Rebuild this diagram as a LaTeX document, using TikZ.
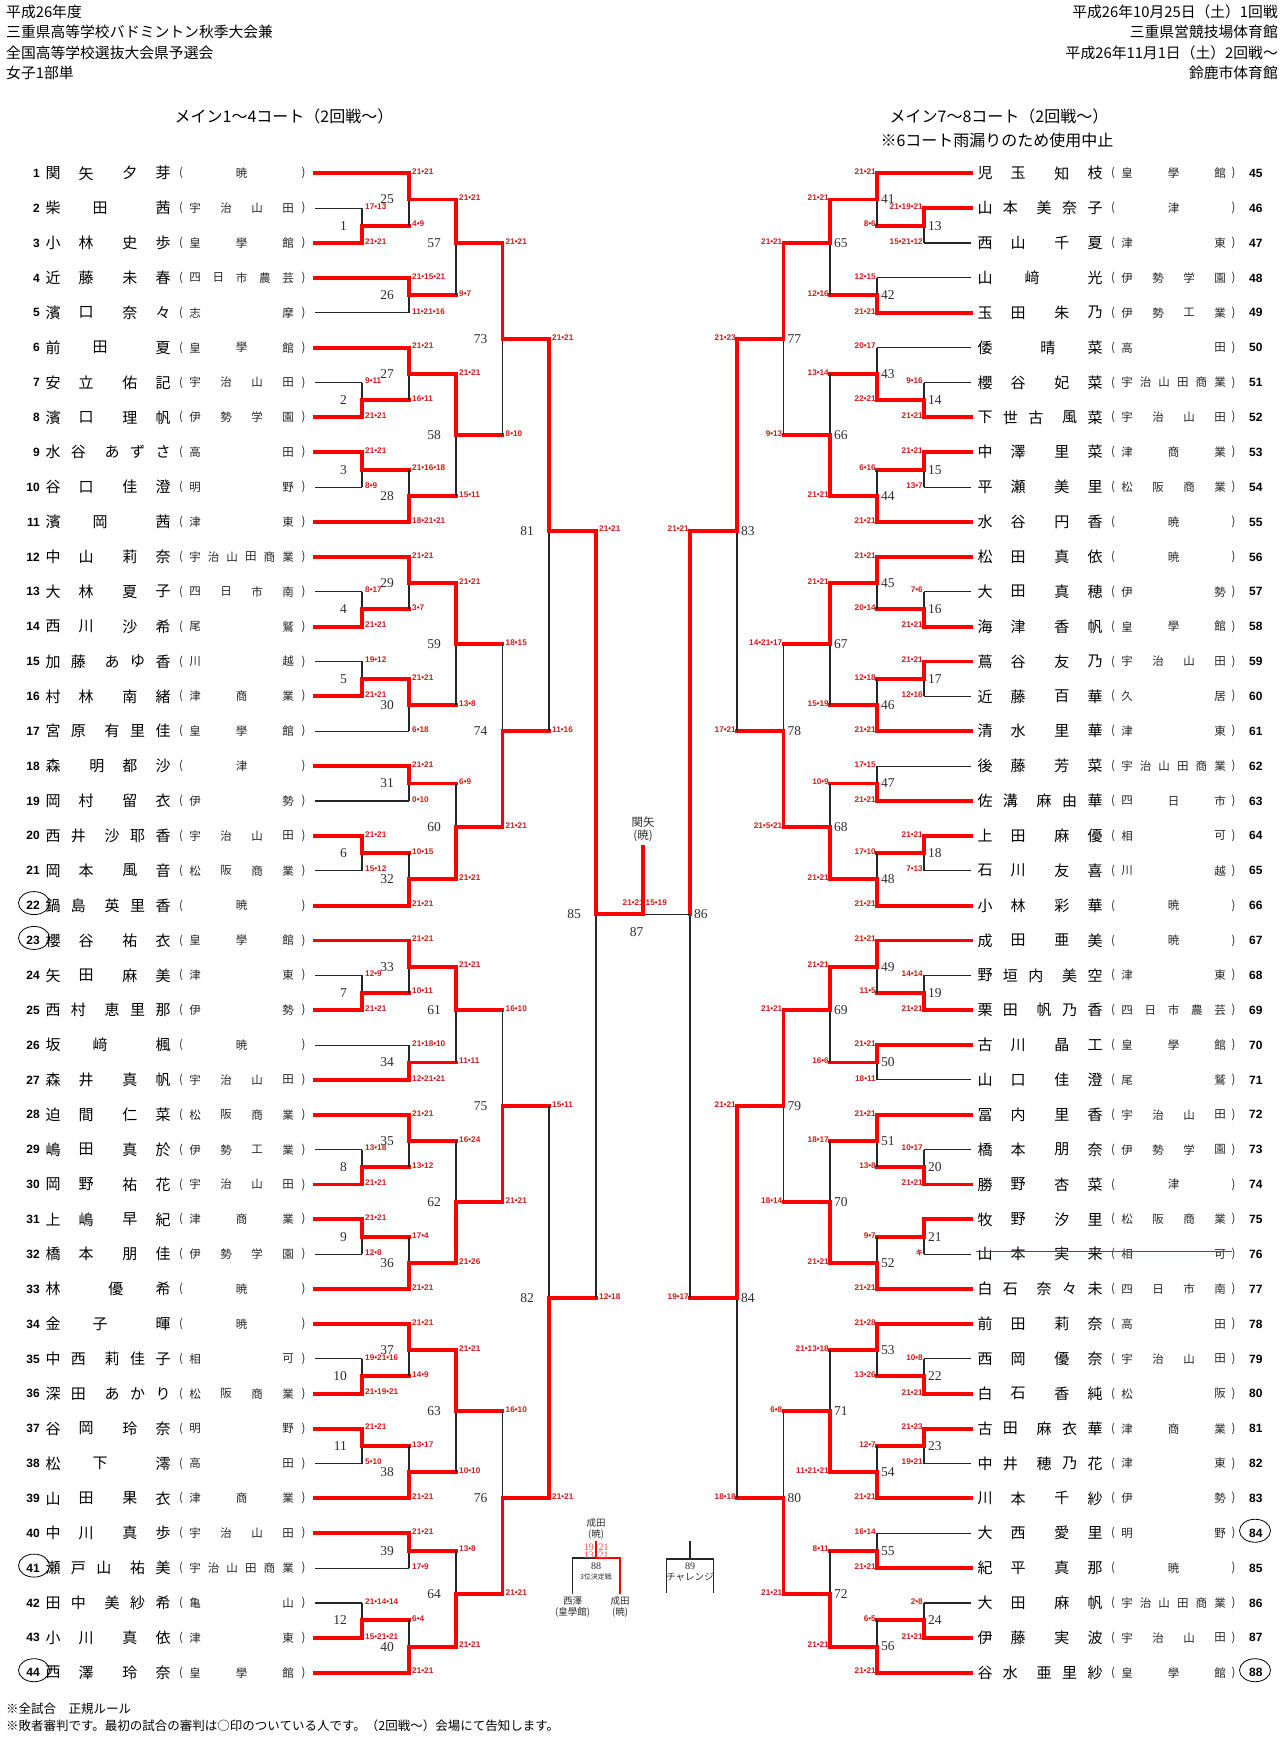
\documentclass[tikz,border=0pt]{standalone}
\usepackage{fontspec}
\setmainfont{Noto Sans CJK JP}
\newfontfamily\jp{Noto Sans CJK JP}
\newfontfamily\lsans{Liberation Sans}
\newfontfamily\lserif{Liberation Serif}
\usetikzlibrary{calc,shapes.geometric}
\definecolor{lred}{RGB}{255,0,0}
\definecolor{scred}{RGB}{210,28,28}
\definecolor{ink}{RGB}{45,45,45}
\definecolor{lightred}{RGB}{240,80,80}
\newcount\cntA \newcount\cntB
\def\xLa{362}\def\xLb{409}\def\xLc{456}\def\xLd{502.5}\def\xLe{549}\def\xLf{596}
\def\xRa{924}\def\xRb{877}\def\xRc{830}\def\xRd{783.5}\def\xRe{737}\def\xRf{690}
\tikzset{
 rl/.style={draw=lred, line width=3.9pt, line cap=rect},
 kl/.style={draw=black!85, line width=1.1pt},
 rt/.style={draw=lred, line width=2.2pt},
 kt/.style={draw=black!85, line width=1.4pt},
 nm/.style={font=\jp\fontsize{15}{15}\selectfont, inner sep=0pt},
 sch/.style={font=\jp\fontsize{11.5}{11.5}\selectfont, inner sep=0pt, text=black!85},
 num/.style={font=\lsans\bfseries\fontsize{12}{12}\selectfont, inner sep=0pt},
 score/.style={font=\lsans\bfseries\fontsize{8.2}{8.2}\selectfont, text=scred, inner sep=0pt},
 lab/.style={font=\lserif\fontsize{13.5}{13.5}\selectfont, text=ink, inner sep=0pt},
 hd/.style={font=\jp\fontsize{14.8}{14.8}\selectfont, inner sep=0pt},
 ttl/.style={font=\jp\fontsize{16}{16}\selectfont, inner sep=0pt},
 ft/.style={font=\jp\fontsize{12.5}{12.5}\selectfont, inner sep=0pt, anchor=west},
 ctr/.style={font=\jp\fontsize{11.5}{11.5}\selectfont, inner sep=0pt, text=ink},
 sml/.style={font=\jp\fontsize{9.5}{9.5}\selectfont, inner sep=0pt, text=ink},
 tiny/.style={font=\jp\fontsize{7}{7}\selectfont, inner sep=0pt, text=ink},
 snum/.style={font=\lserif\fontsize{10}{10}\selectfont, inner sep=0pt, text=ink},
 sred/.style={font=\lserif\fontsize{10}{10}\selectfont, inner sep=0pt, text=lightred},
 circ/.style={draw=black, ellipse, line width=0.8pt, minimum width=31pt, minimum height=23pt, inner sep=0pt},
}
\newcommand\putname[5]{%
  \global\cntA=0 \foreach \ch in {#4}{\global\advance\cntA by 1}%
  \global\cntB=0 \foreach \ch in {#5}{\global\advance\cntB by 1}%
  \pgfmathsetmacro\nstp{110/(\the\cntA+\the\cntB-2+1.33)}%
  \foreach \ch [count=\i from 0] in {#4}{\node[nm] (nm#1-\i) at ({#2+\i*\nstp},#3) {\ch};}%
  \foreach \ch [count=\i from 0] in {#5}{\node[nm] (ng#1-\i) at ({#2+(\the\cntA-1+1.33+\i)*\nstp},#3) {\ch};}%
}
\newcommand\putschool[4]{%
  \global\cntA=0 \foreach \ch in {#4}{\global\advance\cntA by 1}%
  \ifnum\cntA=1
    \node[sch] (sc#1-0) at ({#2+46.5},#3) {#4};%
  \else
    \pgfmathsetmacro\sstp{93/(\the\cntA-1)}%
    \foreach \ch [count=\i from 0] in {#4}{\node[sch] (sc#1-\i) at ({#2+\i*\sstp},#3) {\ch};}%
  \fi
}
\newcommand\rowL[4]{%
  \pgfmathsetmacro\yy{173.3+(#1-1)*34.87}%
  \expandafter\xdef\csname uP#1\endcsname{\the\numexpr4*(#1-1)\relax}%
  \coordinate (P#1) at (315,\yy);
  \node[num,anchor=east] (no#1) at (40,\yy) {#1};
  \putname{#1}{53}{\yy}{#2}{#3}%
  \node[sch] (po#1) at (181,\yy) {(};
  \node[sch] (pc#1) at (303.5,\yy) {)};
  \putschool{#1}{195}{\yy}{#4}%
}
\newcommand\rowR[4]{%
  \pgfmathsetmacro\yy{173.3+(#1-45)*34.87}%
  \expandafter\xdef\csname uP#1\endcsname{\the\numexpr4*(#1-45)\relax}%
  \coordinate (P#1) at (971,\yy);
  \node[num,anchor=west] (no#1) at (1249,\yy) {#1};
  \putname{#1}{985}{\yy}{#2}{#3}%
  \node[sch] (po#1) at (1113,\yy) {(};
  \node[sch] (pc#1) at (1233.5,\yy) {)};
  \putschool{#1}{1127}{\yy}{#4}%
}
\newcommand\M[9]{%
  \edef\uAv{\csname u#2\endcsname}\edef\uBv{\csname u#3\endcsname}%
  \edef\uMv{\the\numexpr(\uAv+\uBv-1)/2\relax}%
  \expandafter\xdef\csname um#1\endcsname{\uMv}%
  \coordinate (vx) at (#4,0);
  \coordinate (a) at (#2 -| vx);
  \coordinate (b) at (#3 -| vx);
  \coordinate (m#1) at (#4,{173.3+\uMv*8.7175});
  \draw[#6] (#2) -- (a);
  \draw[#7] (#3) -- (b);
  \ifnum#5=1
    \draw[kl] (b) -- (m#1); \draw[rl] (a) -- (m#1);
  \else
    \draw[kl] (a) -- (m#1); \draw[rl] (b) -- (m#1);
  \fi
  \ifdim#4pt<643pt
    \node[score,anchor=west] (sa#1) at ([xshift=3pt,yshift=1.6pt]a) {#8};
    \node[score,anchor=west] (sb#1) at ([xshift=3pt,yshift=1.6pt]b) {#9};
    \node[lab,anchor=east] (lb#1) at ([xshift=-15pt]m#1) {#1};
  \else
    \node[score,anchor=east] (sa#1) at ([xshift=-1pt,yshift=1.6pt]a) {#8};
    \node[score,anchor=east] (sb#1) at ([xshift=-1pt,yshift=1.6pt]b) {#9};
    \node[lab,anchor=west] (lb#1) at ([xshift=4pt]m#1) {#1};
  \fi
}
\begin{document}
\begin{tikzpicture}[x=1pt,y=-1pt]
\fill[white] (0,0) rectangle (1280,1741);
\useasboundingbox (0,0) rectangle (1280,1741);
% header
\node[hd,anchor=west] (h1) at (6,11.7) {平成26年度};
\node[hd,anchor=west] (h2) at (6,32.3) {三重県高等学校バドミントン秋季大会兼};
\node[hd,anchor=west] (h3) at (6,52.5) {全国高等学校選抜大会県予選会};
\node[hd,anchor=west] (h4) at (6,72.7) {女子1部単};
\node[hd,anchor=east] (h5) at (1278,11.7) {平成26年10月25日（土）1回戦};
\node[hd,anchor=east] (h6) at (1278,32.3) {三重県営競技場体育館};
\node[hd,anchor=east] (h7) at (1278,52.5) {平成26年11月1日（土）2回戦～};
\node[hd,anchor=east] (h8) at (1278,72.7) {鈴鹿市体育館};
\node[ttl] (t1) at (284,116.5) {メイン1～4コート（2回戦～）};
\node[ttl] (t2) at (999,116.5) {メイン7～8コート（2回戦～）};
\node[ttl] (t3) at (997,140.5) {※6コート雨漏りのため使用中止};
% players left
\rowL{1}{関,矢}{夕,芽}{暁}
\rowL{2}{柴,田}{茜}{宇,治,山,田}
\rowL{3}{小,林}{史,歩}{皇,學,館}
\rowL{4}{近,藤}{未,春}{四,日,市,農,芸}
\rowL{5}{濱,口}{奈,々}{志,摩}
\rowL{6}{前,田}{夏}{皇,學,館}
\rowL{7}{安,立}{佑,記}{宇,治,山,田}
\rowL{8}{濱,口}{理,帆}{伊,勢,学,園}
\rowL{9}{水,谷}{あ,ず,さ}{高,田}
\rowL{10}{谷,口}{佳,澄}{明,野}
\rowL{11}{濱,岡}{茜}{津,東}
\rowL{12}{中,山}{莉,奈}{宇,治,山,田,商,業}
\rowL{13}{大,林}{夏,子}{四,日,市,南}
\rowL{14}{西,川}{沙,希}{尾,鷲}
\rowL{15}{加,藤}{あ,ゆ,香}{川,越}
\rowL{16}{村,林}{南,緒}{津,商,業}
\rowL{17}{宮,原}{有,里,佳}{皇,學,館}
\rowL{18}{森}{明,都,沙}{津}
\rowL{19}{岡,村}{留,衣}{伊,勢}
\rowL{20}{西,井}{沙,耶,香}{宇,治,山,田}
\rowL{21}{岡,本}{風,音}{松,阪,商,業}
\rowL{22}{鍋,島}{英,里,香}{暁}
\rowL{23}{櫻,谷}{祐,衣}{皇,學,館}
\rowL{24}{矢,田}{麻,美}{津,東}
\rowL{25}{西,村}{恵,里,那}{伊,勢}
\rowL{26}{坂,﨑}{楓}{暁}
\rowL{27}{森,井}{真,帆}{宇,治,山,田}
\rowL{28}{迫,間}{仁,菜}{松,阪,商,業}
\rowL{29}{嶋,田}{真,於}{伊,勢,工,業}
\rowL{30}{岡,野}{祐,花}{宇,治,山,田}
\rowL{31}{上,嶋}{早,紀}{津,商,業}
\rowL{32}{橋,本}{朋,佳}{伊,勢,学,園}
\rowL{33}{林}{優,希}{暁}
\rowL{34}{金,子}{暉}{暁}
\rowL{35}{中,西}{莉,佳,子}{相,可}
\rowL{36}{深,田}{あ,か,り}{松,阪,商,業}
\rowL{37}{谷,岡}{玲,奈}{明,野}
\rowL{38}{松,下}{澪}{高,田}
\rowL{39}{山,田}{果,衣}{津,商,業}
\rowL{40}{中,川}{真,歩}{宇,治,山,田}
\rowL{41}{瀬,戸,山}{祐,美}{宇,治,山,田,商,業}
\rowL{42}{田,中}{美,紗,希}{亀,山}
\rowL{43}{小,川}{真,依}{津,東}
\rowL{44}{西,澤}{玲,奈}{皇,學,館}
% players right
\rowR{45}{児,玉}{知,枝}{皇,學,館}
\rowR{46}{山,本}{美,奈,子}{津}
\rowR{47}{西,山}{千,夏}{津,東}
\rowR{48}{山,﨑}{光}{伊,勢,学,園}
\rowR{49}{玉,田}{朱,乃}{伊,勢,工,業}
\rowR{50}{倭}{晴,菜}{高,田}
\rowR{51}{櫻,谷}{妃,菜}{宇,治,山,田,商,業}
\rowR{52}{下,世,古}{風,菜}{宇,治,山,田}
\rowR{53}{中,澤}{里,菜}{津,商,業}
\rowR{54}{平,瀬}{美,里}{松,阪,商,業}
\rowR{55}{水,谷}{円,香}{暁}
\rowR{56}{松,田}{真,依}{暁}
\rowR{57}{大,田}{真,穂}{伊,勢}
\rowR{58}{海,津}{香,帆}{皇,學,館}
\rowR{59}{蔦,谷}{友,乃}{宇,治,山,田}
\rowR{60}{近,藤}{百,華}{久,居}
\rowR{61}{清,水}{里,華}{津,東}
\rowR{62}{後,藤}{芳,菜}{宇,治,山,田,商,業}
\rowR{63}{佐,溝}{麻,由,華}{四,日,市}
\rowR{64}{上,田}{麻,優}{相,可}
\rowR{65}{石,川}{友,喜}{川,越}
\rowR{66}{小,林}{彩,華}{暁}
\rowR{67}{成,田}{亜,美}{暁}
\rowR{68}{野,垣,内}{美,空}{津,東}
\rowR{69}{栗,田}{帆,乃,香}{四,日,市,農,芸}
\rowR{70}{古,川}{晶,工}{皇,學,館}
\rowR{71}{山,口}{佳,澄}{尾,鷲}
\rowR{72}{冨,内}{里,香}{宇,治,山,田}
\rowR{73}{橋,本}{朋,奈}{伊,勢,学,園}
\rowR{74}{勝,野}{杏,菜}{津}
\rowR{75}{牧,野}{汐,里}{松,阪,商,業}
\rowR{76}{山,本}{実,来}{相,可}
\rowR{77}{白,石}{奈,々,未}{四,日,市,南}
\rowR{78}{前,田}{莉,奈}{高,田}
\rowR{79}{西,岡}{優,奈}{宇,治,山,田}
\rowR{80}{白,石}{香,純}{松,阪}
\rowR{81}{古,田}{麻,衣,華}{津,商,業}
\rowR{82}{中,井}{穂,乃,花}{津,東}
\rowR{83}{川,本}{千,紗}{伊,勢}
\rowR{84}{大,西}{愛,里}{明,野}
\rowR{85}{紀,平}{真,那}{暁}
\rowR{86}{大,田}{麻,帆}{宇,治,山,田,商,業}
\rowR{87}{伊,藤}{実,波}{宇,治,山,田}
\rowR{88}{谷,水}{亜,里,紗}{皇,學,館}
% referee circles and withdrawal strike
\node[circ] (c22) at (34,{173.3+21*34.87-2.5}) {};
\node[circ] (c23) at (34,{173.3+22*34.87-2.5}) {};
\node[circ] (c41) at (34,{173.3+40*34.87-2.5}) {};
\node[circ] (c44) at (34,{173.3+43*34.87-2.5}) {};
\node[circ] (c84) at (1255,{173.3+39*34.87-2.5}) {};
\node[circ] (c88) at (1255,{173.3+43*34.87-2.5}) {};
\coordinate (s76a) at (976,1251);
\coordinate (s76b) at (1232,1251);
\draw[lred, line width=0.9pt] (s76a) -- (s76b);
% first round
\M{1}{P2}{P3}{\xLa}{2}{kl}{rl}{17•13}{21•21}
\M{2}{P7}{P8}{\xLa}{2}{kl}{rl}{9•11}{21•21}
\M{3}{P9}{P10}{\xLa}{1}{rl}{kl}{21•21}{8•9}
\M{4}{P13}{P14}{\xLa}{2}{kl}{rl}{8•17}{21•21}
\M{5}{P15}{P16}{\xLa}{2}{kl}{rl}{19•12}{21•21}
\M{6}{P20}{P21}{\xLa}{1}{rl}{kl}{21•21}{15•12}
\M{7}{P24}{P25}{\xLa}{2}{kl}{rl}{12•9}{21•21}
\M{8}{P29}{P30}{\xLa}{2}{kl}{rl}{13•18}{21•21}
\M{9}{P31}{P32}{\xLa}{1}{rl}{kl}{21•21}{12•8}
\M{10}{P35}{P36}{\xLa}{2}{kl}{rl}{19•21•16}{21•19•21}
\M{11}{P37}{P38}{\xLa}{1}{rl}{kl}{21•21}{5•10}
\M{12}{P42}{P43}{\xLa}{2}{kl}{rl}{21•14•14}{15•21•21}
\M{13}{P46}{P47}{\xRa}{1}{rl}{kl}{21•19•21}{15•21•12}
\M{14}{P51}{P52}{\xRa}{2}{kl}{rl}{9•16}{21•21}
\M{15}{P53}{P54}{\xRa}{1}{rl}{kl}{21•21}{13•7}
\M{16}{P57}{P58}{\xRa}{2}{kl}{rl}{7•6}{21•21}
\M{17}{P59}{P60}{\xRa}{1}{rl}{kl}{21•21}{12•16}
\M{18}{P64}{P65}{\xRa}{1}{rl}{kl}{21•21}{7•13}
\M{19}{P68}{P69}{\xRa}{2}{kl}{rl}{14•14}{21•21}
\M{20}{P73}{P74}{\xRa}{2}{kl}{rl}{10•17}{21•21}
\M{21}{P75}{P76}{\xRa}{1}{rl}{kl}{}{{\jp\fontsize{7}{7}\selectfont キ}}
\M{22}{P79}{P80}{\xRa}{2}{kl}{rl}{10•8}{21•21}
\M{23}{P81}{P82}{\xRa}{1}{rl}{kl}{21•23}{19•21}
\M{24}{P86}{P87}{\xRa}{2}{kl}{rl}{2•8}{21•21}
% second round
\M{25}{P1}{m1}{\xLb}{1}{rl}{rl}{21•21}{4•9}
\M{26}{P4}{P5}{\xLb}{1}{rl}{kl}{21•15•21}{11•21•16}
\M{27}{P6}{m2}{\xLb}{1}{rl}{rl}{21•21}{16•11}
\M{28}{m3}{P11}{\xLb}{2}{rl}{rl}{21•16•18}{18•21•21}
\M{29}{P12}{m4}{\xLb}{1}{rl}{rl}{21•21}{3•7}
\M{30}{m5}{P17}{\xLb}{1}{rl}{kl}{21•21}{6•18}
\M{31}{P18}{P19}{\xLb}{1}{rl}{kl}{21•21}{0•10}
\M{32}{m6}{P22}{\xLb}{2}{rl}{rl}{10•15}{21•21}
\M{33}{P23}{m7}{\xLb}{1}{rl}{rl}{21•21}{10•11}
\M{34}{P26}{P27}{\xLb}{2}{kl}{rl}{21•18•10}{12•21•21}
\M{35}{P28}{m8}{\xLb}{1}{rl}{rl}{21•21}{13•12}
\M{36}{m9}{P33}{\xLb}{2}{rl}{rl}{17•4}{21•21}
\M{37}{P34}{m10}{\xLb}{1}{rl}{rl}{21•21}{14•9}
\M{38}{m11}{P39}{\xLb}{2}{rl}{rl}{13•17}{21•21}
\M{39}{P40}{P41}{\xLb}{1}{rl}{kl}{21•21}{17•9}
\M{40}{m12}{P44}{\xLb}{2}{rl}{rl}{6•4}{21•21}
\M{41}{P45}{m13}{\xRb}{1}{rl}{rl}{21•21}{8•6}
\M{42}{P48}{P49}{\xRb}{2}{kl}{rl}{12•15}{21•21}
\M{43}{P50}{m14}{\xRb}{2}{kl}{rl}{20•17}{22•21}
\M{44}{m15}{P55}{\xRb}{2}{rl}{rl}{6•16}{21•21}
\M{45}{P56}{m16}{\xRb}{1}{rl}{rl}{21•21}{20•14}
\M{46}{m17}{P61}{\xRb}{2}{rl}{rl}{12•18}{21•21}
\M{47}{P62}{P63}{\xRb}{2}{kl}{rl}{17•15}{21•21}
\M{48}{m18}{P66}{\xRb}{2}{rl}{rl}{17•10}{21•21}
\M{49}{P67}{m19}{\xRb}{1}{rl}{rl}{21•21}{11•5}
\M{50}{P70}{P71}{\xRb}{1}{rl}{kl}{21•21}{18•11}
\M{51}{P72}{m20}{\xRb}{1}{rl}{rl}{21•21}{13•8}
\M{52}{m21}{P77}{\xRb}{2}{rl}{rl}{9•7}{21•21}
\M{53}{P78}{m22}{\xRb}{1}{rl}{rl}{21•28}{13•26}
\M{54}{m23}{P83}{\xRb}{2}{rl}{rl}{12•7}{21•21}
\M{55}{P84}{P85}{\xRb}{2}{kl}{rl}{16•14}{21•21}
\M{56}{m24}{P88}{\xRb}{2}{rl}{rl}{6•5}{21•21}
% third round
\M{57}{m25}{m26}{\xLc}{1}{rl}{rl}{21•21}{9•7}
\M{58}{m27}{m28}{\xLc}{1}{rl}{rl}{21•21}{15•11}
\M{59}{m29}{m30}{\xLc}{1}{rl}{rl}{21•21}{13•8}
\M{60}{m31}{m32}{\xLc}{2}{rl}{rl}{6•9}{21•21}
\M{61}{m33}{m34}{\xLc}{1}{rl}{rl}{21•21}{11•11}
\M{62}{m35}{m36}{\xLc}{2}{rl}{rl}{16•24}{21•26}
\M{63}{m37}{m38}{\xLc}{1}{rl}{rl}{21•21}{10•10}
\M{64}{m39}{m40}{\xLc}{2}{rl}{rl}{13•8}{21•21}
\M{65}{m41}{m42}{\xRc}{1}{rl}{rl}{21•21}{12•16}
\M{66}{m43}{m44}{\xRc}{2}{rl}{rl}{13•14}{21•21}
\M{67}{m45}{m46}{\xRc}{1}{rl}{rl}{21•21}{15•19}
\M{68}{m47}{m48}{\xRc}{2}{rl}{rl}{10•9}{21•21}
\M{69}{m49}{m50}{\xRc}{1}{rl}{rl}{21•21}{16•6}
\M{70}{m51}{m52}{\xRc}{2}{rl}{rl}{18•17}{21•21}
\M{71}{m53}{m54}{\xRc}{2}{rl}{rl}{21•13•18}{11•21•21}
\M{72}{m55}{m56}{\xRc}{2}{rl}{rl}{8•11}{21•21}
% fourth round
\M{73}{m57}{m58}{\xLd}{1}{rl}{rl}{21•21}{8•10}
\M{74}{m59}{m60}{\xLd}{2}{rl}{rl}{18•15}{21•21}
\M{75}{m61}{m62}{\xLd}{2}{rl}{rl}{16•10}{21•21}
\M{76}{m63}{m64}{\xLd}{2}{rl}{rl}{16•10}{21•21}
\M{77}{m65}{m66}{\xRd}{1}{rl}{rl}{21•21}{9•13}
\M{78}{m67}{m68}{\xRd}{2}{rl}{rl}{14•21•17}{21•5•21}
\M{79}{m69}{m70}{\xRd}{1}{rl}{rl}{21•21}{18•14}
\M{80}{m71}{m72}{\xRd}{2}{rl}{rl}{6•8}{21•21}
% fifth round
\M{81}{m73}{m74}{\xLe}{1}{rl}{rl}{21•21}{11•16}
\M{82}{m75}{m76}{\xLe}{2}{rl}{rl}{15•11}{21•21}
\M{83}{m77}{m78}{\xRe}{1}{rl}{rl}{21•23}{17•21}
\M{84}{m79}{m80}{\xRe}{1}{rl}{rl}{21•21}{18•18}
% semifinals
\M{85}{m81}{m82}{\xLf}{1}{rl}{rl}{21•21}{12•18}
\M{86}{m83}{m84}{\xRf}{1}{rl}{rl}{21•21}{19•17}
% final
\coordinate (cx) at (643,0);
\coordinate (fin) at (m85 -| cx);
\coordinate (champ) at (643,846.5);
\node[score,anchor=east] (sf85) at ([xshift=1pt,yshift=12pt]fin) {21•21};
\node[score,anchor=west] (sf86) at ([xshift=2.5pt,yshift=12pt]fin) {15•19};
\draw[kl] (m86) -- (fin);
\draw[rl] (m85) -- (fin) -- (champ);
\node[ctr] (w1) at (643,821.7) {関矢};
\node[ctr] (w2) at (643,836) {(暁)};
\node[lab] (lb87) at (636.7,931.7) {87};
% third place match
\coordinate (t88) at (596,1541);
\coordinate (j88) at (596,1558);
\coordinate (l88) at (572.7,1558);
\coordinate (r88) at (620,1558);
\coordinate (lb88) at (572.7,1594);
\coordinate (rb88) at (620,1594);
\draw[kt] (lb88) -- (l88) -- (j88);
\draw[rt] (t88) -- (j88) -- (r88) -- (rb88);
\node[sml] (w88a) at (596,1523) {成田};
\node[sml] (w88b) at (596,1534.5) {(暁)};
\node[sred,anchor=east] (s88a) at (594,1547) {19};
\node[sred,anchor=west] (s88b) at (598.5,1547) {21};
\node[sred,anchor=east] (s88c) at (594,1555.5) {13};
\node[sred,anchor=west] (s88d) at (598.5,1555.5) {21};
\node[snum] (n88) at (596,1566.5) {88};
\node[tiny] (d88) at (596,1576.5) {3位決定戦};
\node[sml] (p88a) at (572.7,1600.5) {西澤};
\node[sml] (p88b) at (572.7,1612) {(皇學館)};
\node[sml] (p88c) at (620,1600.5) {成田};
\node[sml] (p88d) at (620,1612) {(暁)};
% challenge match
\coordinate (t89) at (690,1541);
\coordinate (j89) at (690,1559);
\coordinate (l89) at (666.7,1559);
\coordinate (r89) at (713.3,1559);
\coordinate (lb89) at (666.7,1593);
\coordinate (rb89) at (713.3,1593);
\draw[kt] (t89) -- (j89);
\draw[kt] (lb89) -- (l89) -- (r89) -- (rb89);
\node[snum] (n89) at (690,1566.5) {89};
\node[sml] (d89) at (690,1577.5) {チャレンジ};
% footer
\node[ft] (f1) at (6,1709) {※全試合　正規ルール};
\node[ft] (f2) at (6,1726) {※敗者審判です。最初の試合の審判は○印のついている人です。（2回戦～）会場にて告知します。};
\end{tikzpicture}
\end{document}
